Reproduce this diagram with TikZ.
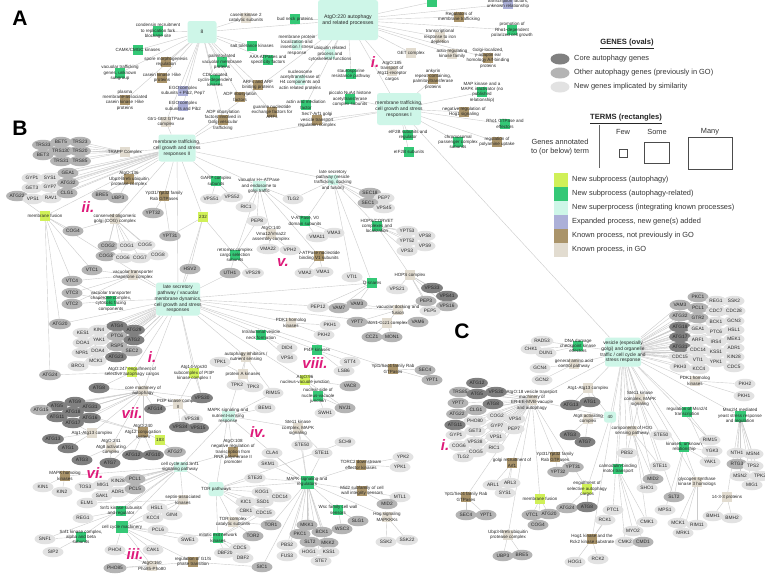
\documentclass[tikz,border=0pt]{standalone}
\usepackage{fontspec}
\setmainfont{Liberation Sans}
\setsansfont{Liberation Sans}
\usepackage{tikz}
\usepackage{xcolor}
\usetikzlibrary{shapes.geometric,backgrounds}
\definecolor{gcore}{RGB}{128,128,128}
\definecolor{gother}{RGB}{180,180,180}
\definecolor{gnew}{RGB}{226,226,226}
\definecolor{cauto}{RGB}{208,240,88}
\definecolor{crel}{RGB}{52,200,118}
\definecolor{csup}{RGB}{206,246,232}
\definecolor{cexp}{RGB}{172,176,216}
\definecolor{cknown}{RGB}{170,148,106}
\definecolor{cgo}{RGB}{226,220,208}
\definecolor{cpink}{RGB}{222,26,122}
\definecolor{cedge}{RGB}{204,204,204}
\begin{document}
\begin{tikzpicture}[x=1pt,y=-1pt, every node/.style={font=\fontsize{4.8}{5.4}\selectfont,text=black!85}, gene/.style={ellipse,minimum width=21pt,minimum height=10.5pt,inner sep=0.3pt}, gc/.style={gene,fill=gcore}, go/.style={gene,fill=gother}, gn/.style={gene,fill=gnew}, tm/.style={minimum width=10pt,minimum height=10pt,inner sep=0pt}, sup/.style={tm,fill=csup,rounded corners=2.5pt}, tS/.style={tm,fill=csup}, tA/.style={tm,fill=cauto}, tR/.style={tm,fill=crel}, tX/.style={tm,fill=cexp}, tK/.style={tm,fill=cknown}, tG/.style={tm,fill=cgo}, lb/.style={align=center,inner sep=0pt,font=\fontsize{4.5}{5.3}\selectfont}, rom/.style={font=\bfseries\itshape\fontsize{15}{15}\selectfont,text=cpink}, pnl/.style={font=\bfseries\fontsize{21}{21}\selectfont,text=black}, lgd/.style={anchor=west,inner sep=0pt,font=\fontsize{7.4}{8.6}\selectfont,text=black!80}, lnk/.style={draw=cedge,line width=0.4pt}]
\useasboundingbox (0,0) rectangle (765,574);
\node[pnl] (labA) at (20,18) {A};
\node[sup,minimum width=29pt,minimum height=22pt,label={[lb,font=\fontsize{5}{6}\selectfont]center:8}] (t8) at (202,32) {};
\node[sup,minimum width=60pt,minimum height=40pt,label={[lb,font=\fontsize{5.2}{6.4}\selectfont]center:{AtgO:220 autophagy\\and related processes}}] (atgo220) at (348,20) {};
\node[sup,minimum width=44pt,minimum height=32pt,label={[lb,font=\fontsize{4.9}{5.8}\selectfont]center:{membrane trafficking,\\cell growth and stress\\responses I}}] (mt1) at (399,109) {};
\node[tR,label={[lb]center:{condensin recruitment\\to replication fork\\blockage site}}] (cond) at (158,31) {};
\node[tG,label={[lb]center:{casein kinase 2\\catalytic subunits}}] (ck2) at (246,18) {};
\node[tR,label={[lb]center:{salt tolerance kinases}}] (salt) at (252,46) {};
\node[tR,label={[lb]center:{CAMK/CMGC kinases}}] (camk) at (138,50) {};
\node[tK,label={[lb]center:{spore morphogenesis\\regulation}}] (spore) at (166,62) {};
\node[tR,label={[lb]center:{palmitoylated\\vacuolar membrane\\proteins}}] (palm) at (222,62) {};
\node[tR,label={[lb]center:{vacuolar trafficking\\genes, unknown\\subgroup}}] (vactr) at (120,73) {};
\node[tK,label={[lb]center:{casein kinase I-like\\proteins}}] (ck1) at (162,78) {};
\node[tR,label={[lb]center:{CDK-related\\cyclin-dependent\\kinases}}] (cdk) at (215,80) {};
\node[tX,label={[lb]center:{EGO complex\\subunits + Pib2, Pep7}}] (ego1) at (183,91) {};
\node[tK,label={[lb]center:{plasma\\membrane-associated\\casein kinase I-like\\proteins}}] (pmck) at (125,100) {};
\node[tK,label={[lb]center:{ADP ribosylation\\factors}}] (adp1) at (240,97) {};
\node[tX,label={[lb]center:{EGO complex\\subunits and Pib2}}] (ego2) at (183,106) {};
\node[tG,label={[lb]center:{Gtr1-Gtr2 GTPase\\complex}}] (gtr) at (166,122) {};
\node[tK,label={[lb]center:{ADP ribosylation\\factors involved in\\Golgi vesicular\\trafficking}}] (adp2) at (223,120) {};
\node[tR,label={[lb]center:{AAA ATPases and\\specificity factors}}] (aaa) at (268,60) {};
\node[tK,label={[lb]center:{ARFs and ARF\\binding proteins}}] (arf) at (258,85) {};
\node[tK,label={[lb]center:{guanine nucleotide\\exchange factors for\\ARFs}}] (gef) at (272,112) {};
\node[tR,label={[lb]center:{bud neck proteins}}] (budneck) at (295,19) {};
\node[tR] (topg) at (432,2) {};
\node[tS,label={[lb]center:{membrane protein\\localization and\\insertion / stress\\response}}] (memloc) at (297,45) {};
\node[tK,label={[lb]center:{Regulators of\\membrane trafficking}}] (regmem) at (459,17) {};
\node[tG,label={[lb]center:{transcriptional\\response to iron\\depletion}}] (iron) at (440,37) {};
\node[tS,label={[lb]center:{ubiquitin related\\process and\\cytoskeletal functions}}] (ubq) at (330,54) {};
\node[tG,label={[lb]center:{GET complex}}] (get) at (411,53) {};
\node[tG,label={[lb]center:{actin-regulating\\kinase family}}] (actreg) at (452,54) {};
\node[tG,label={[lb]center:{AtgO:185\\transport of\\Atg11-receptor\\cargos}}] (atgo185) at (392,71) {};
\node[tS,label={[lb]center:{nucleosome\\acetyltransferase of\\H4 components and\\actin related proteins}}] (nuc) at (300,80) {};
\node[tR,label={[lb]center:{staurosporine\\resistance pathway}}] (stauro) at (351,74) {};
\node[tK,label={[lb]center:{ankyrin\\repeat-containing,\\palmitoyltransferase\\proteins}}] (ankyrin) at (433,79) {};
\node[tR,label={[lb]center:{actin and mediation\\factor}}] (actmed) at (306,105) {};
\node[tR,label={[lb]center:{piccolo NuA4 histone\\acetyltransferase\\complex subunits}}] (piccolo) at (350,99) {};
\node[tK,label={[lb]center:{Sec7-Arf1 golgi\\vesicle transport\\regulation complex}}] (sec7) at (317,120) {};
\node[tR,label={[lb]center:{MAP kinase and a\\MAPK inactivator (no\\published\\relationship)}}] (mapk) at (482,92) {};
\node[tK,label={[lb]center:{negative regulation of\\Hog1 signaling}}] (neghog) at (464,112) {};
\node[tR,label={[lb]center:{Rho1 GTPase and\\effectors}}] (rho1) at (505,124) {};
\node[tK,label={[lb]center:{regulation of\\polyamine uptake}}] (polyam) at (497,142) {};
\node[tR,label={[lb]center:{eIF2B subunits and\\regulator}}] (eif1) at (408,135) {};
\node[tR,label={[lb]center:{eIF2B subunits}}] (eif2) at (409,152) {};
\node[tR,label={[lb]center:{chromosomal\\passenger complex\\subunits}}] (chrom) at (458,142) {};
\node[tK,label={[lb]center:{Golgi-localized,\\γ-adaptin ear\\homology Arf-binding\\proteins}}] (golgiArf) at (488,58) {};
\node[tR,label={[lb]center:{promotion of\\Rho1-dependent\\polarized cell growth}}] (rho1dep) at (512,30) {};
\node[tX,label={[lb]center:{transcription factors,\\unknown relationship}}] (tfunk) at (508,4) {};
\node[rom] (rA) at (375,62) {i.};
\node[pnl] (labB) at (20,128) {B};
\node[sup,minimum width=37pt,minimum height=27pt,label={[lb,font=\fontsize{4.9}{5.8}\selectfont]center:{membrane trafficking,\\cell growth and stress\\responses II}}] (mt2) at (177,148) {};
\node[tG,label={[lb]center:{TRAPP Complex}}] (trapp) at (125,152) {};
\node[tK,label={[lb]center:{AtgO:136\\Ubp3-Bre5 ubiquitin\\protease complex}}] (ubp) at (129,179) {};
\node[tK,label={[lb]center:{Ypt31/Ypt32 family\\Rab GTPases}}] (ypt3132) at (164,196) {};
\node[tA,label={[lb]center:{membrane fusion}}] (memfus) at (45,216) {};
\node[tG,label={[lb]center:{conserved oligomeric\\golgi (COG) complex}}] (cog) at (115,219) {};
\node[tG,label={[lb]center:{vacuolar transporter\\chaperone complex}}] (vtcc) at (133,275) {};
\node[tR,label={[lb]center:{vacuolar transporter\\chaperone complex,\\cytosolic facing\\components}}] (vtcf) at (111,301) {};
\node[tR,label={[lb]center:{GARP complex\\subunits}}] (garp) at (216,181) {};
\node[tA,label={[lb]center:232}] (n232) at (203,217) {};
\node[tS,minimum width=13pt,label={[lb]center:{vacuolar H+-ATPase\\and endosome to\\golgi traffic}}] (vhatp) at (259,186) {};
\node[tS,label={[lb]center:{late secretory\\pathway (vesicle\\trafficking, docking\\and fusion)}}] (lsp1) at (333,180) {};
\node[tR,label={[lb]center:{V-ATPase, V0\\domain subunits}}] (v0) at (305,221) {};
\node[tG,label={[lb]center:{AtgO:140\\Vma12/Vma22\\assembly complex}}] (vma12) at (271,234) {};
\node[tK,label={[lb]center:{V-ATPase nucleotide\\binding V1 subunits}}] (v1) at (319,256) {};
\node[tR,label={[lb]center:{retromer complex\\cargo selection\\subunits}}] (retro) at (235,255) {};
\node[tR,label={[lb]center:{HOPS/CORVET\\complexes and\\localization}}] (hops) at (377,226) {};
\node[tG,label={[lb]center:{HOPS complex}}] (hopsc) at (410,275) {};
\node[tR,label={[lb]center:{Q-snares}}] (qsn) at (372,283) {};
\node[sup,minimum width=44pt,minimum height=33pt,label={[lb,font=\fontsize{4.9}{5.8}\selectfont]center:{late secretory\\pathway / vacuolar\\membrane dynamics,\\cell growth and stress\\responses}}] (lsp2) at (178,299) {};
\node[tG,label={[lb]center:{vacuolar docking and\\fusion}}] (vdock) at (398,310) {};
\node[tG,label={[lb]center:{PDK1 homolog\\kinases}}] (pdk1b) at (291,323) {};
\node[tG,label={[lb]center:{Mon1-Ccz1 complex}}] (mon) at (387,323) {};
\node[tR,label={[lb]center:{Intraluminal vesicle\\neck formation}}] (ivn) at (261,335) {};
\node[tG,label={[lb]center:{autophagy inhibitors /\\nutrient sensing}}] (autoinh) at (246,357) {};
\node[tG,label={[lb]center:{protein A kinases}}] (pka) at (243,374) {};
\node[tR,label={[lb]center:{PI4P kinases}}] (pi4p) at (317,350) {};
\node[tK,label={[lb]center:{Ypt1/Sec4 family Rab\\GTPases}}] (ypt1sec4B) at (393,369) {};
\node[tA,label={[lb]center:{AtgO:96\\nucleus-vacuole junction}}] (nvj) at (305,380) {};
\node[tR,label={[lb]center:{nuclear side of\\nucleus-vacuole\\junction}}] (nvjn) at (318,396) {};
\node[tG,label={[lb]center:{Ste11 kinase\\complex, MAPK\\signaling}}] (ste11B) at (298,428) {};
\node[tA,label={[lb]center:{AtgO:247 engulfment of\\selective autophagy cargos}}] (engB) at (132,372) {};
\node[tA,label={[lb]center:{Atg14-Vps30\\subcomplex of PI3P\\kinase complex I}}] (atg14c) at (194,373) {};
\node[tG,label={[lb]center:{core machinery of\\autophagy}}] (core) at (143,391) {};
\node[tG,label={[lb]center:{PI3P kinase complex\\II}}] (pi3p2) at (178,404) {};
\node[tS,minimum width=13pt,label={[lb]center:{MAPK signaling and\\nutrient-sensing\\response}}] (mapkn) at (228,416) {};
\node[tK,label={[lb]center:{AtgO:240\\Atg12 conjugation\\system}}] (atg12c) at (143,432) {};
\node[tG,label={[lb]center:{Atg1-Atg13 complex}}] (atg113B) at (92,433) {};
\node[tA,label={[lb]center:183}] (n183) at (160,440) {};
\node[tG,label={[lb]center:{AtgO:241\\Atg8 activating\\complex}}] (atg8act) at (111,447) {};
\node[tK,label={[lb]center:{AtgO:108\\negative regulation of\\transcription from\\RNA polymerase II\\promoter}}] (neg2) at (233,452) {};
\node[tS,minimum width=13pt,label={[lb]center:{cell cycle and Snf1\\signaling pathway}}] (ccsnf) at (180,467) {};
\node[tK,label={[lb]center:{MAPK homolog\\kinases}}] (mapkh) at (65,476) {};
\node[sup,minimum width=15pt,minimum height=14pt,label={[lb]center:{TOR pathways}}] (tor) at (216,489) {};
\node[tG,label={[lb]center:{septin-associated\\kinases}}] (septin) at (183,500) {};
\node[tR,label={[lb]center:{Snf1 kinase subunits\\and regulator}}] (snfreg) at (121,511) {};
\node[tG,label={[lb]center:{TOR complex\\catalytic subunits}}] (torcat) at (233,522) {};
\node[tR,minimum size=12pt,label={[lb]center:{cell cycle machinery}}] (ccm) at (122,527) {};
\node[tR,label={[lb]center:{Snf1 kinase complex,\\alpha and beta\\subunits}}] (snfab) at (81,537) {};
\node[tR,label={[lb]center:{mitotic exit network\\kinases}}] (men) at (218,538) {};
\node[tK,label={[lb]center:{regulation of G1/S\\phase transition}}] (g1s) at (193,562) {};
\node[tG,label={[lb]center:{AtgO:160\\Pho85-Pho80}}] (pho) at (152,566) {};
\node[tK,label={[lb]center:{TORC2 downstream\\effector kinases}}] (torc2) at (361,465) {};
\node[tR,minimum size=13pt,label={[lb]center:{MAPK signaling and\\regulators}}] (mapkr) at (307,482) {};
\node[tK,label={[lb]center:{Mid2 subfamily of cell\\wall integrity sensors}}] (mid2f) at (362,491) {};
\node[tR,label={[lb]center:{Wsc family cell wall\\sensors}}] (wsc) at (338,510) {};
\node[tG,label={[lb]center:{Hog signaling\\MAPKKKs}}] (hogmk) at (387,517) {};
\foreach \s/\n/\x/\y in {go/TRS33/43/145,go/BET5/61/142,go/TRS23/80/142,go/BET3/43/155,go/TRS130/61/151,go/TRS20/80/151,go/TRS31/61/161,go/TRS85/80/161,gn/GYP1/32/178,gn/SYS1/50/178,go/GEA1/68/173,gn/GET3/32/188,gn/GYP7/50/187,go/ATG32/68/183,go/ATG22/17/196,gn/VPS1/33/199,gn/RAV1/51/198,go/CLG1/67/193,go/BRE5/102/195,go/UBP3/118/198,go/YPT32/153/213,go/YPT31/170/236,go/COG4/73/231,go/COG2/108/246,gn/COG1/127/246,gn/COG5/145/245,go/COG3/106/256,gn/COG6/123/258,gn/COG7/140/258,gn/COG8/158/255,go/VTC1/92/270,go/VTC4/72/281,go/VTC3/72/293,go/VTC2/72/304}
  \node[\s] (b\n) at (\x,\y) {\n};
\foreach \s/\n/\x/\y in {go/HSV2/190/269,go/UTH1/230/273,gn/VPS29/253/273,gn/VPS51/211/199,gn/VPS52/232/197,gn/RIC1/246/207,gn/PEP8/257/221,gn/TLG2/293/199,go/SEC18/370/193,gn/PEP7/384/198,go/SEC1/368/203,gn/VPS45/384/208,gn/VMA11/317/237,gn/VMA3/334/233,gn/VMA22/268/249,gn/VPH2/290/250,gn/VMA2/305/273,gn/VMA1/323/272,gn/VTI1/352/277,gn/YPT53/407/231,gn/VPS8/425/236,gn/YPT52/407/241,gn/VPS9/425/246,gn/VPS3/407/251,gn/VPS21/397/289,gc/VPS33/432/288,gc/VPS41/447/296,go/PEP3/426/301,go/VPS16/447/306,gn/PEP5/430/311}
  \node[\s] (b\n) at (\x,\y) {\n};
\foreach \s/\n/\x/\y in {gn/PEP12/318/307,go/VAM7/339/308,go/VAM3/357/304,go/YPT7/357/322,go/VAM6/418/322,go/CCZ1/372/337,go/MON1/392/337,gn/PKH1/330/325,gn/PKH2/324/335,gn/DID4/287/348,gn/VPS4/287/358,gn/STT4/350/362,gn/LSB6/344/371,go/SEC4/425/370,go/YPT1/432/380,go/VAC8/350/386,gn/RIM15/273/393,go/NVJ1/345/408,gn/SWH1/325/413,gn/BEM1/265/408}
  \node[\s] (b\n) at (\x,\y) {\n};
\foreach \s/\n/\x/\y in {go/ATG20/60/324,gn/KIN4/99/330,gc/ATG4/117/326,gc/ATG29/134/330,gn/KES1/83/333,gn/YAK1/99/340,go/PTC6/117/336,gc/ATG2/134/340,gn/DOA1/83/343,go/RSP5/117/346,go/SEC2/132/351,gn/NPR1/82/353,gn/DOA4/98/351,gc/ATG23/116/357,gn/MCK1/96/361,gn/BRO1/78/366,go/ATG24/50/375,gc/ATG8/99/388,gc/VPS30/202/398,gn/TPK1/220/362,gn/TPK2/237/385,gn/TPK3/253/387,gc/ATG9/75/402,gc/ATG5/57/406,go/ATG15/41/410,gc/ATG31/90/407,gc/ATG18/73/412,gc/ATG11/57/417,gc/ATG16/90/418,gc/ATG17/73/423,gc/ATG14/155/409,gn/VPS38/192/419,gc/VPS34/180/427,gc/VPS15/198/428,gc/ATG13/53/439,gc/ATG1/68/448,gc/ATG3/82/460,gc/ATG7/110/463,gc/ATG12/133/455,gc/ATG10/153/455,go/ATG27/175/452}
  \node[\s] (b\n) at (\x,\y) {\n};
\foreach \s/\n/\x/\y in {gn/KIN1/43/487,gn/KIN2/62/492,gn/TOS3/85/487,gn/MIG1/103/485,gn/KIN28/118/481,go/PCL1/135/479,gn/SAK1/102/496,gn/ADR1/118/492,go/PCL5/135/489,gn/ELM1/87/503,gn/REG1/83/518,gn/HSL1/157/508,gn/GIN4/172/515,gn/KCC4/153/518,gn/PCL6/158/530,gn/SWE1/188/540,gn/SNF1/45/539,gn/SIP2/53/552,gn/PHO4/115/550,gn/CAK1/153/550,go/PHO85/115/568,gn/DBF20/225/553,gn/CDC5/240/548,gn/DBF2/243/558,go/TOR2/253/536,gn/KIC1/246/502,gn/CBK1/246/511,gn/STE20/255/478}
  \node[\s] (b\n) at (\x,\y) {\n};
\foreach \s/\n/\x/\y in {gn/STE50/302/445,gn/STE11/322/453,gn/SCH9/345/442,gn/CLA4/272/453,gn/SKM1/268/464,gn/YPK2/403/457,gn/YPK1/400/467,gn/KOG1/262/492,gn/CDC14/280/497,gn/SSD1/263/502,gn/CDC15/264/513,gn/MTL1/400/497,go/MID2/387/504,go/TOR1/271/525,go/SLG1/358/521,go/WSC3/342/529,gn/SSK2/386/542,gn/SSK22/407/540,go/MKK1/307/525,go/PKC1/300/534,go/BCK1/322/532,go/SLT2/310/542,go/MKK2/328/543,gn/PBS2/287/545,gn/HOG1/309/552,gn/KSS1/329/552,gn/FUS3/287/556,gn/STE7/321/561,go/SIC1/262/567}
  \node[\s] (b\n) at (\x,\y) {\n};
\node[rom] (rB2) at (88,207) {ii.};
\node[rom] (rB5) at (283,263) {v.};
\node[rom] (rB1) at (152,357) {i.};
\node[rom] (rB8) at (315,363) {viii.};
\node[rom] (rB7) at (132,413) {vii.};
\node[rom] (rB4) at (258,432) {iv.};
\node[rom] (rB6) at (95,473) {vi.};
\node[rom] (rB3) at (135,554) {iii.};
\node[pnl] (labC) at (462,331) {C};
\node[sup,minimum width=36pt,minimum height=29pt,label={[lb,font=\fontsize{4.9}{5.8}\selectfont]center:{vesicle (especially\\golgi) and organelle\\traffic / cell cycle and\\stress response}}] (vesC) at (623,352) {};
\node[tR,label={[lb]center:{DNA damage\\checkpoint kinase\\effectors}}] (dnaC) at (578,346) {};
\node[tG,label={[lb]center:{general amino acid\\control pathway}}] (gaac) at (574,364) {};
\node[tG,label={[lb]center:{PDK1 homolog\\kinases}}] (pdk1C) at (695,381) {};
\node[tG,label={[lb]center:{Atg1-Atg13 complex}}] (atg113C) at (588,388) {};
\node[tG,label={[lb]center:{AtgO:18 vesicle transport\\machinery of\\ER-EE-MVB-vacuole\\and autophagy}}] (vtmC) at (532,400) {};
\node[tG,label={[lb]center:{Ste11 kinase\\complex, MAPK\\signaling}}] (ste11C) at (640,399) {};
\node[tG,label={[lb]center:{Atg8 activating\\complex}}] (atg8C) at (588,419) {};
\node[sup,minimum width=12pt,minimum height=11pt,label={[lb]center:40}] (n40) at (610,417) {};
\node[tR,label={[lb]center:{regulation of Msn2/4\\transcription}}] (msnreg) at (687,412) {};
\node[tR,minimum size=11pt,label={[lb]center:{Msn2/4 mediated\\yeast stress response\\and regulation}}] (msnC) at (740,416) {};
\node[tG,label={[lb]center:{components of HOG\\sensing pathway}}] (hogC) at (632,431) {};
\node[tR,label={[lb]center:{kinases, unknown\\relationship}}] (kinC) at (684,447) {};
\node[tK,label={[lb]center:{golgi recruitment of\\Arf1}}] (golgiArf1) at (512,463) {};
\node[tK,label={[lb]center:{Ypt31/Ypt32 family\\Rab GTPases}}] (ypt31C) at (555,457) {};
\node[tR,label={[lb]center:{calmodulin-binding\\motor transport}}] (calm) at (618,469) {};
\node[tG,label={[lb]center:{glycogen synthase\\kinase 3 homologs}}] (gsk) at (697,482) {};
\node[tA,label={[lb]center:{engulfment of\\selective autophagy\\cargos}}] (engC) at (587,489) {};
\node[tA,label={[lb]center:{membrane fusion}}] (memfusC) at (540,499) {};
\node[tK,label={[lb]center:{Ypt1/Sec4 family Rab\\GTPases}}] (ypt1C) at (466,497) {};
\node[tG,label={[lb]center:{Ubp3-Bre5 ubiquitin\\protease complex}}] (ubpC) at (508,535) {};
\node[tK,label={[lb]center:{Hog1 kinase and the\\Rck2 kinase substrate}}] (hogrck) at (592,539) {};
\node[tG,label={[lb]center:{14-3-3 proteins}}] (n1433) at (727,497) {};
\foreach \s/\n/\x/\y in {go/PKC1/698/297,go/VAM3/680/305,go/PCL1/698/308,gn/REG1/716/301,gn/SSK2/734/301,go/ATG32/680/316,go/GTR2/698/318,gn/CDC7/716/311,gn/CDC28/734/311,gc/ATG18/680/327,gn/GEA1/698/329,gn/BCK1/716/322,gn/GCN3/734/321,gc/ATG17/680/337,gn/PTC6/716/332,gn/HSL1/734/330,gn/ARF1/698/340,gn/IRS4/716/342,gn/MEK1/734/339,gc/ATG31/680/347,gn/CDC14/698/350,gn/KSS1/716/352,gn/ADR1/734/348,gn/CDC15/680/357,gn/VTI1/698/360,gn/YPK1/716/362,gn/KIN28/734/357,gn/PKH3/680/367,gn/KCC4/699/369,gn/CDC5/734/367}
  \node[\s] (c\n) at (\x,\y) {\n};
\foreach \s/\n/\x/\y in {gn/PKH2/745/384,gn/PKH1/744/396,gn/RAD53/542/341,gn/CHK1/531/349,gn/DUN1/546/353,gn/GCN4/540/368,gn/GCN2/542/380,gc/ATG13/571/405,gc/ATG1/590/402,gc/ATG3/570/435,gc/ATG7/585/442,gn/STE50/661/435,gn/RIM15/710/440,gn/PBS2/627/453,gn/STE11/660/466,go/MID2/653/479,gn/SHO1/647/488,go/SLT2/674/497,gn/MPS1/665/510,gn/MCK1/678/523,gn/RIM11/697/525,gn/MRK1/683/533,gn/YGK3/712/451,gn/YAK1/710/462,gn/NTH1/737/453,gn/MSN4/753/454,go/RTG3/737/464,gn/TPS2/753/466,gn/MSN2/740/476,gn/TPK2/760/476,gn/MIG1/752/485,gn/BMH1/713/516,gn/BMH2/732/518}
  \node[\s] (c\n) at (\x,\y) {\n};
\foreach \s/\n/\x/\y in {gn/PTC1/613/510,gn/RCK1/605/520,gn/CMK1/647/522,gn/MYO2/633/531,gn/CMK2/625/542,go/CMD1/643/542,gn/HOG1/575/562,gn/RCK2/598/559,go/UBP3/503/556,go/BRE5/522/555,go/VTC1/532/515,go/ATG20/549/514,go/ATG24/567/508,go/COG4/538/525,gn/ARL1/493/485,gn/ARL3/510/483,gn/SYS1/505/493,go/YPT31/573/467,go/YPT32/558/472,go/SEC4/466/515,go/YPT1/486/515}
  \node[\s] (c\n) at (\x,\y) {\n};
\foreach \s/\n/\x/\y in {gc/ATG12/477/383,go/TRS85/460/392,gc/ATG5/477/394,gc/VPS30/496/392,gc/ATG8/493/404,go/YPT7/458/403,go/CLG1/476/410,go/ATG22/457/414,gn/COG2/497/416,gn/VPS4/515/419,gn/GYP7/497/426,gn/PEP7/514/429,gn/PHO80/475/421,gc/ATG11/455/425,gn/GET3/475/431,gn/GYP1/456/435,gn/VPS1/496/437,gn/VPS38/475/442,gn/COG6/459/446,gn/COG5/476/452,gn/RIC1/494/448,gn/TLG2/463/457}
  \node[\s] (c\n) at (\x,\y) {\n};
\node[gc] (cATG8e) at (587,507) {ATG8};
\node[rom] (rC1) at (445,445) {i.};
\node[font=\bfseries\fontsize{7.6}{9}\selectfont] (genhd) at (627,44) {\underline{GENES (ovals)}};
\node[gc,minimum width=19pt,minimum height=11pt] (kc) at (560,59) {};
\node[go,minimum width=19pt,minimum height=11pt] (ko) at (560,73) {};
\node[gn,minimum width=19pt,minimum height=11pt] (kn) at (560,87) {};
\node[lgd] (kct) at (574,59) {Core autophagy genes};
\node[lgd] (kot) at (574,73) {Other autophagy genes (previously in GO)};
\node[lgd] (knt) at (574,87) {New genes implicated by similarity};
\node[font=\bfseries\fontsize{7.6}{9}\selectfont] (trmhd) at (626,119) {\underline{TERMS (rectangles)}};
\node[font=\fontsize{7.4}{8.6}\selectfont,text=black!80] (few) at (623,132) {Few};
\node[font=\fontsize{7.4}{8.6}\selectfont,text=black!80] (some) at (657,132) {Some};
\node[font=\fontsize{7.4}{8.6}\selectfont,text=black!80] (many) at (710,132) {Many};
\node[align=center,font=\fontsize{7.4}{8.8}\selectfont,text=black!80] (annot) at (560,147) {Genes annotated\\to (or below) term};
\coordinate (sepT) at (599,125);
\coordinate (sepB) at (599,168);
\draw[black!60,line width=1pt] (sepT) -- (sepB);
\node[draw=black!70,line width=0.8pt,minimum size=8pt,inner sep=0pt] (sqfew) at (623,153) {};
\node[draw=black!70,line width=0.8pt,minimum width=25pt,minimum height=21pt,inner sep=0pt] (sqsome) at (657,153) {};
\node[draw=black!70,line width=0.8pt,minimum width=44pt,minimum height=32pt,inner sep=0pt] (sqmany) at (710,153) {};
\node[tA,minimum size=14pt] (sw1) at (561,180) {};
\node[tR,minimum size=14pt] (sw2) at (561,194) {};
\node[tS,minimum size=14pt] (sw3) at (561,208) {};
\node[tX,minimum size=14pt] (sw4) at (561,222) {};
\node[tK,minimum size=14pt] (sw5) at (561,236) {};
\node[tG,minimum size=14pt] (sw6) at (561,250) {};
\node[lgd] (sw1t) at (572,180) {New subprocess (autophagy)};
\node[lgd] (sw2t) at (572,194) {New subprocess (autophagy-related)};
\node[lgd] (sw3t) at (572,208) {New superprocess (integrating known processes)};
\node[lgd] (sw4t) at (572,222) {Expanded process, new gene(s) added};
\node[lgd] (sw5t) at (572,236) {Known process, not previously in GO};
\node[lgd] (sw6t) at (572,250) {Known process, in GO};
\begin{scope}[on background layer]
\fill[white] (0,0) rectangle (765,574);
\foreach \b in {cond,ck2,salt,camk,spore,palm,vactr,ck1,cdk,ego1,pmck,adp1,ego2,gtr,adp2,aaa,arf,gef} \draw[lnk] (t8) -- (\b);
\foreach \b in {t8,budneck,memloc,ubq,nuc,stauro,atgo185,get,iron,regmem,topg,golgiArf,rho1dep,tfunk,mt1,mt2,actmed,actreg} \draw[lnk] (atgo220) -- (\b);
\foreach \b in {mapk,neghog,rho1,polyam,eif1,eif2,chrom,ankyrin,sec7,piccolo,vesC,mt2} \draw[lnk] (mt1) -- (\b);
\foreach \b in {TRS33,BET5,TRS23,BET3,TRS130,TRS20,TRS31,TRS85} \draw[lnk] (trapp) -- (b\b);
\foreach \b in {GEA1,ATG32,CLG1,GYP1,SYS1,GET3,GYP7,VPS1,RAV1,ATG22} \draw[lnk] (mt2) -- (b\b);
\foreach \a/\b in {ubp/BRE5,ubp/UBP3,ypt3132/YPT32,ypt3132/YPT31,memfus/ATG22,memfus/COG4,memfus/VTC1,memfus/VTC4,memfus/ATG20,memfus/ATG24,cog/COG2,cog/COG1,cog/COG5,cog/COG3,cog/COG6,cog/COG7,cog/COG8,cog/COG4,vtcc/VTC1,vtcc/VTC4,vtcc/VTC3,vtcc/VTC2,vtcf/VTC4,vtcf/VTC3,vtcf/VTC2,garp/VPS51,garp/VPS52,n232/HSV2,n232/YPT31,retro/VPS29,retro/PEP8,retro/UTH1,vhatp/RIC1,vhatp/PEP8,vhatp/TLG2,lsp1/TLG2,lsp1/SEC18,lsp1/PEP7,lsp1/SEC1,lsp1/VPS45,lsp1/VTI1,v0/VMA11,v0/VMA3,vma12/VMA22,vma12/VPH2,v1/VMA2,v1/VMA1,hops/YPT53,hops/VPS8,hops/YPT52,hops/VPS9,hops/VPS3,hopsc/VPS33,hopsc/VPS41,hopsc/PEP3,hopsc/VPS16,hopsc/PEP5,hopsc/VPS21,qsn/VTI1,qsn/PEP12,qsn/VAM7,qsn/VAM3,vdock/VAM3,vdock/YPT7,vdock/PEP3,mon/CCZ1,mon/MON1,mon/VAM6,mon/YPT7}
  \draw[lnk] (\a) -- (b\b);
\foreach \a/\b in {lsp2/ATG4,lsp2/ATG29,lsp2/PTC6,lsp2/ATG2,lsp2/RSP5,lsp2/SEC2,lsp2/ATG23,lsp2/KIN4,lsp2/YAK1,lsp2/KES1,lsp2/DOA1,lsp2/NPR1,lsp2/DOA4,lsp2/MCK1,lsp2/BRO1,lsp2/HSV2,lsp2/UTH1,lsp2/ATG20,lsp2/VPS30,engB/ATG24,engB/ATG8,core/ATG8,core/ATG9,core/ATG5,core/ATG31,core/ATG18,core/ATG11,core/ATG16,core/ATG17,core/ATG14,core/VPS30,core/ATG15,pi3p2/VPS30,pi3p2/ATG14,pi3p2/VPS38,pi3p2/VPS34,pi3p2/VPS15,atg14c/VPS30,atg12c/ATG12,atg12c/ATG10,atg12c/ATG5,atg12c/ATG16,atg12c/ATG7,n183/ATG27,atg113B/ATG13,atg113B/ATG1,atg113B/ATG17,atg8act/ATG3,atg8act/ATG7,autoinh/TPK1,autoinh/RIM15,pka/TPK1,pka/TPK2,pka/TPK3,ivn/DID4,ivn/VPS4,pdk1b/PKH1,pdk1b/PKH2,pi4p/STT4,pi4p/LSB6,ypt1sec4B/SEC4,ypt1sec4B/YPT1,nvj/VAC8,nvj/NVJ1,nvjn/NVJ1,nvjn/SWH1,ste11B/STE50,ste11B/STE11,mapkn/BEM1,mapkn/RIM15}
  \draw[lnk] (\a) -- (b\b);
\foreach \a/\b in {ccsnf/PCL1,ccsnf/PCL5,ccsnf/KIN28,ccsnf/ADR1,ccsnf/MIG1,ccsnf/SAK1,ccsnf/TOS3,ccsnf/ELM1,mapkh/KIN1,mapkh/KIN2,septin/HSL1,septin/GIN4,septin/KCC4,septin/ELM1,snfreg/REG1,snfreg/SNF1,snfab/SNF1,snfab/SIP2,ccm/PCL6,ccm/SWE1,ccm/PHO4,ccm/CAK1,ccm/HSL1,ccm/KCC4,tor/KIC1,tor/CBK1,tor/KOG1,tor/SSD1,tor/STE20,tor/SCH9,torcat/TOR1,torcat/TOR2,men/CDC5,men/DBF20,men/DBF2,men/CDC15,men/CDC14,g1s/SIC1,g1s/PHO85,pho/PHO85,pho/PHO4,torc2/YPK2,torc2/YPK1,mapkr/STE20,mapkr/CLA4,mapkr/SKM1,mapkr/STE50,mapkr/STE11,mapkr/MKK1,mapkr/PKC1,mapkr/BCK1,mapkr/SLT2,mapkr/MKK2,mapkr/PBS2,mapkr/HOG1,mapkr/KSS1,mapkr/FUS3,mapkr/STE7,mapkr/SIC1,mapkr/TOR1,mid2f/MTL1,mid2f/MID2,wsc/SLG1,wsc/WSC3,hogmk/SSK2,hogmk/SSK22}
  \draw[lnk] (\a) -- (b\b);
\foreach \a/\b in {mt2/trapp,mt2/ubp,mt2/ypt3132,mt2/memfus,mt2/cog,mt2/garp,mt2/vhatp,mt2/lsp1,mt2/n232,mt2/lsp2,mt2/adp2,mt2/gtr,n232/lsp2,n232/retro,vhatp/v0,vhatp/vma12,vhatp/v1,vhatp/retro,lsp1/hops,lsp1/qsn,lsp1/v0,hops/hopsc,lsp2/vtcf,lsp2/vtcc,lsp2/engB,lsp2/core,lsp2/atg14c,lsp2/ivn,lsp2/autoinh,lsp2/pdk1b,lsp2/qsn,lsp2/pi4p,lsp2/ypt1sec4B,lsp2/nvj,lsp2/vdock,lsp2/mon,lsp2/memfus,vdock/mon,core/atg12c,core/atg113B,core/atg8act,core/pi3p2,core/engB,atg14c/pi3p2,atg12c/n183,autoinh/pka,autoinh/mapkn,nvj/nvjn,ste11B/mapkr,ste11B/mapkn,mapkn/mapkr,mapkn/ccsnf,mapkn/tor,neg2/mapkn,neg2/ccsnf,ccsnf/mapkh,ccsnf/snfreg,ccsnf/snfab,ccsnf/ccm,ccsnf/septin,ccsnf/tor,ccm/g1s,ccm/pho,ccm/men,tor/torcat,tor/men,tor/mapkr,mapkr/torc2,mapkr/mid2f,mapkr/wsc,mapkr/hogmk}
  \draw[lnk] (\a) -- (\b);
\foreach \b in {PKC1,VAM3,PCL1,REG1,SSK2,ATG32,GTR2,CDC7,CDC28,ATG18,GEA1,BCK1,GCN3,ATG17,PTC6,HSL1,ARF1,IRS4,MEK1,ATG31,CDC14,KSS1,ADR1,CDC15,VTI1,YPK1,KIN28,PKH3,KCC4,CDC5,PBS2,STE11,SLT2,PTC1,MID2,RIM15,CMK1} \draw[lnk] (vesC) -- (c\b);
\foreach \b in {ATG12,TRS85,ATG5,VPS30,ATG8,YPT7,CLG1,ATG22,COG2,VPS4,GYP7,PEP7,PHO80,ATG11,GET3,GYP1,VPS1,VPS38,COG6,COG5,RIC1,TLG2} \draw[lnk] (vtmC) -- (c\b);
\foreach \a/\b in {dnaC/RAD53,dnaC/CHK1,dnaC/DUN1,gaac/GCN4,gaac/GCN2,pdk1C/PKH2,pdk1C/PKH1,atg113C/ATG13,atg113C/ATG1,atg8C/ATG3,atg8C/ATG7,golgiArf1/ARL1,golgiArf1/ARL3,golgiArf1/SYS1,ypt31C/YPT31,ypt31C/YPT32,ypt1C/SEC4,ypt1C/YPT1,memfusC/VTC1,memfusC/ATG20,memfusC/COG4,engC/ATG24,engC/ATG8e,ubpC/UBP3,ubpC/BRE5,ste11C/STE50,hogC/PBS2,hogC/STE11,hogC/MID2,hogC/SHO1,hogC/STE50,calm/CMK1,calm/MYO2,calm/CMK2,calm/CMD1,hogrck/HOG1,hogrck/RCK2,hogrck/PTC1,hogrck/RCK1,msnreg/RIM15,msnreg/YAK1,kinC/YGK3,kinC/YAK1,kinC/SLT2,kinC/MPS1,gsk/MCK1,gsk/RIM11,gsk/MRK1,msnC/NTH1,msnC/MSN4,msnC/RTG3,msnC/TPS2,msnC/MSN2,msnC/TPK2,msnC/MIG1,n1433/BMH1,n1433/BMH2}
  \draw[lnk] (\a) -- (c\b);
\foreach \a/\b in {vesC/dnaC,vesC/gaac,vesC/pdk1C,vesC/ste11C,vesC/hogC,vesC/kinC,vesC/msnreg,vesC/msnC,vesC/calm,vesC/vtmC,vesC/n40,vesC/atg113C,vesC/hogrck,vesC/gsk,n40/atg8C,n40/atg113C,n40/engC,n40/vtmC,vtmC/golgiArf1,vtmC/ypt31C,vtmC/ypt1C,vtmC/memfusC,vtmC/engC,vtmC/ubpC,ste11C/hogC,msnC/n1433,kinC/gsk}
  \draw[lnk] (\a) -- (\b);
\end{scope}
\end{tikzpicture}
\end{document}
